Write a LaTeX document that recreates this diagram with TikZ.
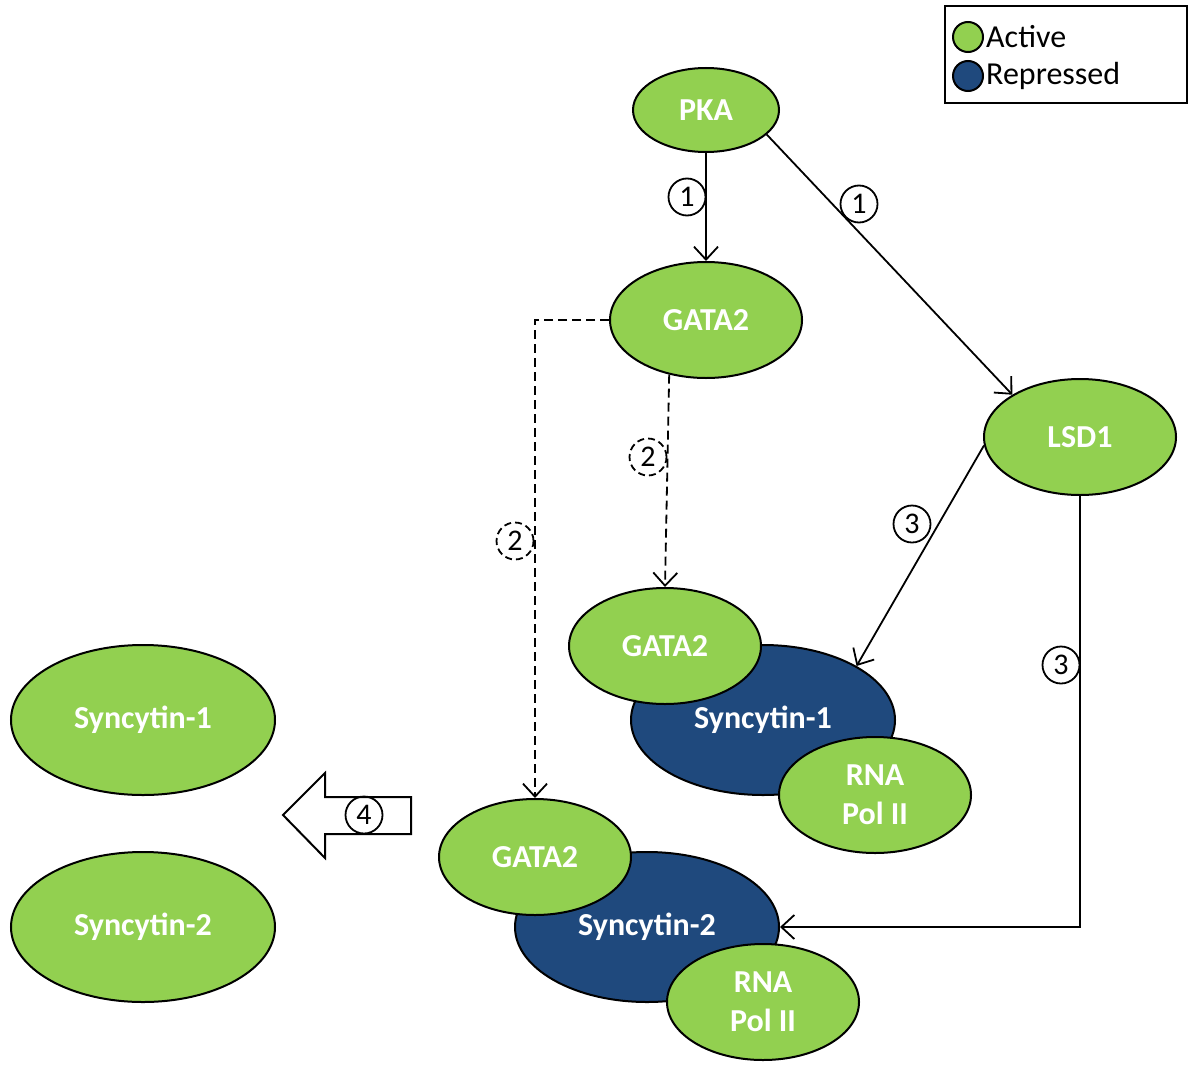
\documentclass[tikz,border=0pt]{standalone}
\usepackage{fontspec}
\setmainfont{Carlito}
\usetikzlibrary{shapes.geometric,arrows.meta}
\definecolor{actgreen}{HTML}{92D050}
\definecolor{repblue}{HTML}{1F497D}
\begin{document}
\begin{tikzpicture}[x=1pt,y=-1pt,
  ell/.style={ellipse,draw=black,line width=2pt,inner sep=0pt,text=white,
    font=\fontsize{32}{39}\selectfont\bfseries,align=center},
  act/.style={ell,fill=actgreen,minimum width=192pt,minimum height=116pt},
  rep/.style={ell,fill=repblue,minimum width=264pt,minimum height=150pt},
  num/.style={circle,draw=black,line width=1.8pt,fill=white,inner sep=0pt,minimum size=37pt,
    font=\fontsize{30}{32}\selectfont},
  dnum/.style={num,dash pattern=on 7pt off 4pt},
  conn/.style={line width=1.8pt,-{Straight Barb[length=13pt,width=24pt,line width=1.8pt]}},
  dconn/.style={conn,dash pattern=on 9pt off 5pt},
  legc/.style={circle,draw=black,line width=2pt,minimum size=30pt,inner sep=0pt},
  legt/.style={anchor=west,inner sep=0pt,font=\fontsize{32}{36}\selectfont}]
\useasboundingbox (0,0) rectangle (1188,1065);

% legend
\draw[line width=1.6pt] (945,6) rectangle (1187.2,103);
\node[legc,fill=actgreen] (la) at (968,37) {};
\node[legc,fill=repblue] (lr) at (968,76) {};
\node[legt] (lat) at (986,37) {Active};
\node[legt] (lrt) at (986,76) {Repressed};

% nodes
\node[act,minimum width=146pt,minimum height=84pt] (PKA) at (706,110) {PKA};
\node[act] (G1) at (706,320) {GATA2};
\node[act] (LSD) at (1080,437) {LSD1};

\node[rep] (S1) at (763,720) {Syncytin-1};
\node[act] (G2) at (665,646) {GATA2};
\node[act] (R1) at (875,795) {RNA\\Pol II};

\node[rep] (S2) at (647,927) {Syncytin-2};
\node[act] (G3) at (535,857) {GATA2};
\node[act] (R2) at (763,1002) {RNA\\Pol II};

\node[rep,fill=actgreen] (L1) at (143,720) {Syncytin-1};
\node[rep,fill=actgreen] (L2) at (143,927) {Syncytin-2};

% connectors
\draw[conn] (PKA.south) -- (G1.north);
\draw[conn] (PKA.-22) -- (LSD.148);
\draw[dconn] (G1.-124) -- (G2.north);
\draw[dconn] (G1.west) -| (G3.north);
\draw[conn] (LSD.-175) -- (S1.30);
\draw[conn] (LSD.south) |- (S2.east);

% labels
\node[num] (n1a) at (687,197) {1};
\node[num] (n1b) at (859,204) {1};
\node[dnum] (n2a) at (648,457) {2};
\node[dnum] (n2b) at (515,541) {2};
\node[num] (n3a) at (912,524) {3};
\node[num] (n3b) at (1061,665) {3};

% big arrow
\draw[line width=2pt,fill=white,line join=miter] (411,797) -- (325,797) -- (325,773) -- (283,815) -- (325,858) -- (325,834) -- (411,834) -- cycle;
\node[num,fill=none] (n4) at (364,815) {4};
\end{tikzpicture}
\end{document}
